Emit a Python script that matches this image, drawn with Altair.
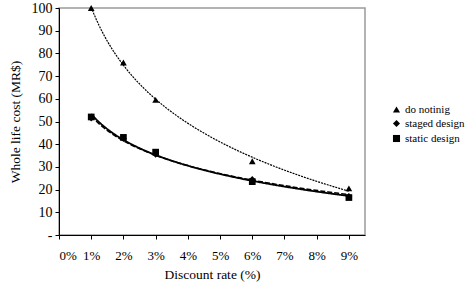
import altair as alt
import pandas as pd

rates = [1, 2, 3, 6, 9]
do_nothing = [100, 76, 59.5, 32.5, 20.5]
staged = [51.5, 42.5, 35.5, 24.5, 17.0]
static = [52.0, 43.0, 36.5, 23.5, 16.5]
series_names = ["do notinig", "staged design", "static design"]

rows = []
for name, vals in zip(series_names, [do_nothing, staged, static]):
    for r, v in zip(rates, vals):
        rows.append({"rate": r, "cost": v, "series": name})
df = pd.DataFrame(rows)

FONT = "Liberation Serif"

x_scale = alt.Scale(domain=[0, 9.5], nice=False, zero=False)
y_scale = alt.Scale(domain=[0, 100], nice=False)

x_axis = alt.Axis(
    title="Discount rate (%)", values=list(range(0, 10)),
    labelExpr="datum.value + '%'", grid=False,
    domainColor="black", tickColor="black", tickSize=4,
    labelFont=FONT, labelFontSize=13, labelColor="black", labelPadding=10,
    titleFont=FONT, titleFontSize=13.5, titleFontWeight="normal", titleColor="black",
    titlePadding=5,
)
y_axis = alt.Axis(
    title="Whole life cost (MR$)", values=list(range(0, 101, 10)),
    labelExpr="datum.value == 0 ? '-' : datum.label", grid=False,
    domainColor="black", tickColor="black", tickSize=4,
    labelFont=FONT, labelFontSize=14, labelColor="black", labelPadding=3,
    titleFont=FONT, titleFontSize=13.5, titleFontWeight="normal", titleColor="black",
    titlePadding=9,
)

base = alt.Chart(df)

dash_scale = alt.Scale(domain=series_names, range=[[2, 1], [5, 2], [1, 0]])
width_scale = alt.Scale(domain=series_names, range=[1.2, 1.8, 2.2])

lines = base.transform_regression(
    "rate", "cost", method="log", groupby=["series"], extent=[1, 9]
).transform_calculate(
    line_series="datum.series"
).mark_line(color="black").encode(
    x=alt.X("rate:Q", scale=x_scale, axis=x_axis),
    y=alt.Y("cost:Q", scale=y_scale, axis=y_axis),
    strokeDash=alt.StrokeDash("line_series:N", scale=dash_scale, legend=None),
    strokeWidth=alt.StrokeWidth("line_series:N", scale=width_scale, legend=None),
    detail="line_series:N",
)

points = base.mark_point(filled=True, color="black", opacity=1, size=45).encode(
    x=alt.X("rate:Q", scale=x_scale, axis=x_axis),
    y=alt.Y("cost:Q", scale=y_scale, axis=y_axis),
    shape=alt.Shape(
        "series:N",
        scale=alt.Scale(domain=series_names, range=["triangle-up", "diamond", "square"]),
        legend=alt.Legend(
            title=None, orient="none", legendX=332, legendY=96,
            labelFont=FONT, labelFontSize=11, labelColor="black",
            symbolFillColor="black", symbolStrokeColor="black", symbolSize=50,
            symbolOpacity=1, rowPadding=0, labelOffset=3, labelLimit=200,
        ),
    ),
)

chart = alt.layer(lines, points).resolve_legend(
    shape="independent", strokeDash="independent", strokeWidth="independent"
).properties(
    width=306, height=227,
    autosize=alt.AutoSizeParams(type="none"),
    padding={"left": 59, "top": 8, "right": 100, "bottom": 49},
    background="white",
).configure_view(stroke="#9a9a9a", strokeWidth=1.5).configure_legend(
    labelFont=FONT
)

chart.save("out.html", embed_options={"renderer": "svg", "actions": False})
